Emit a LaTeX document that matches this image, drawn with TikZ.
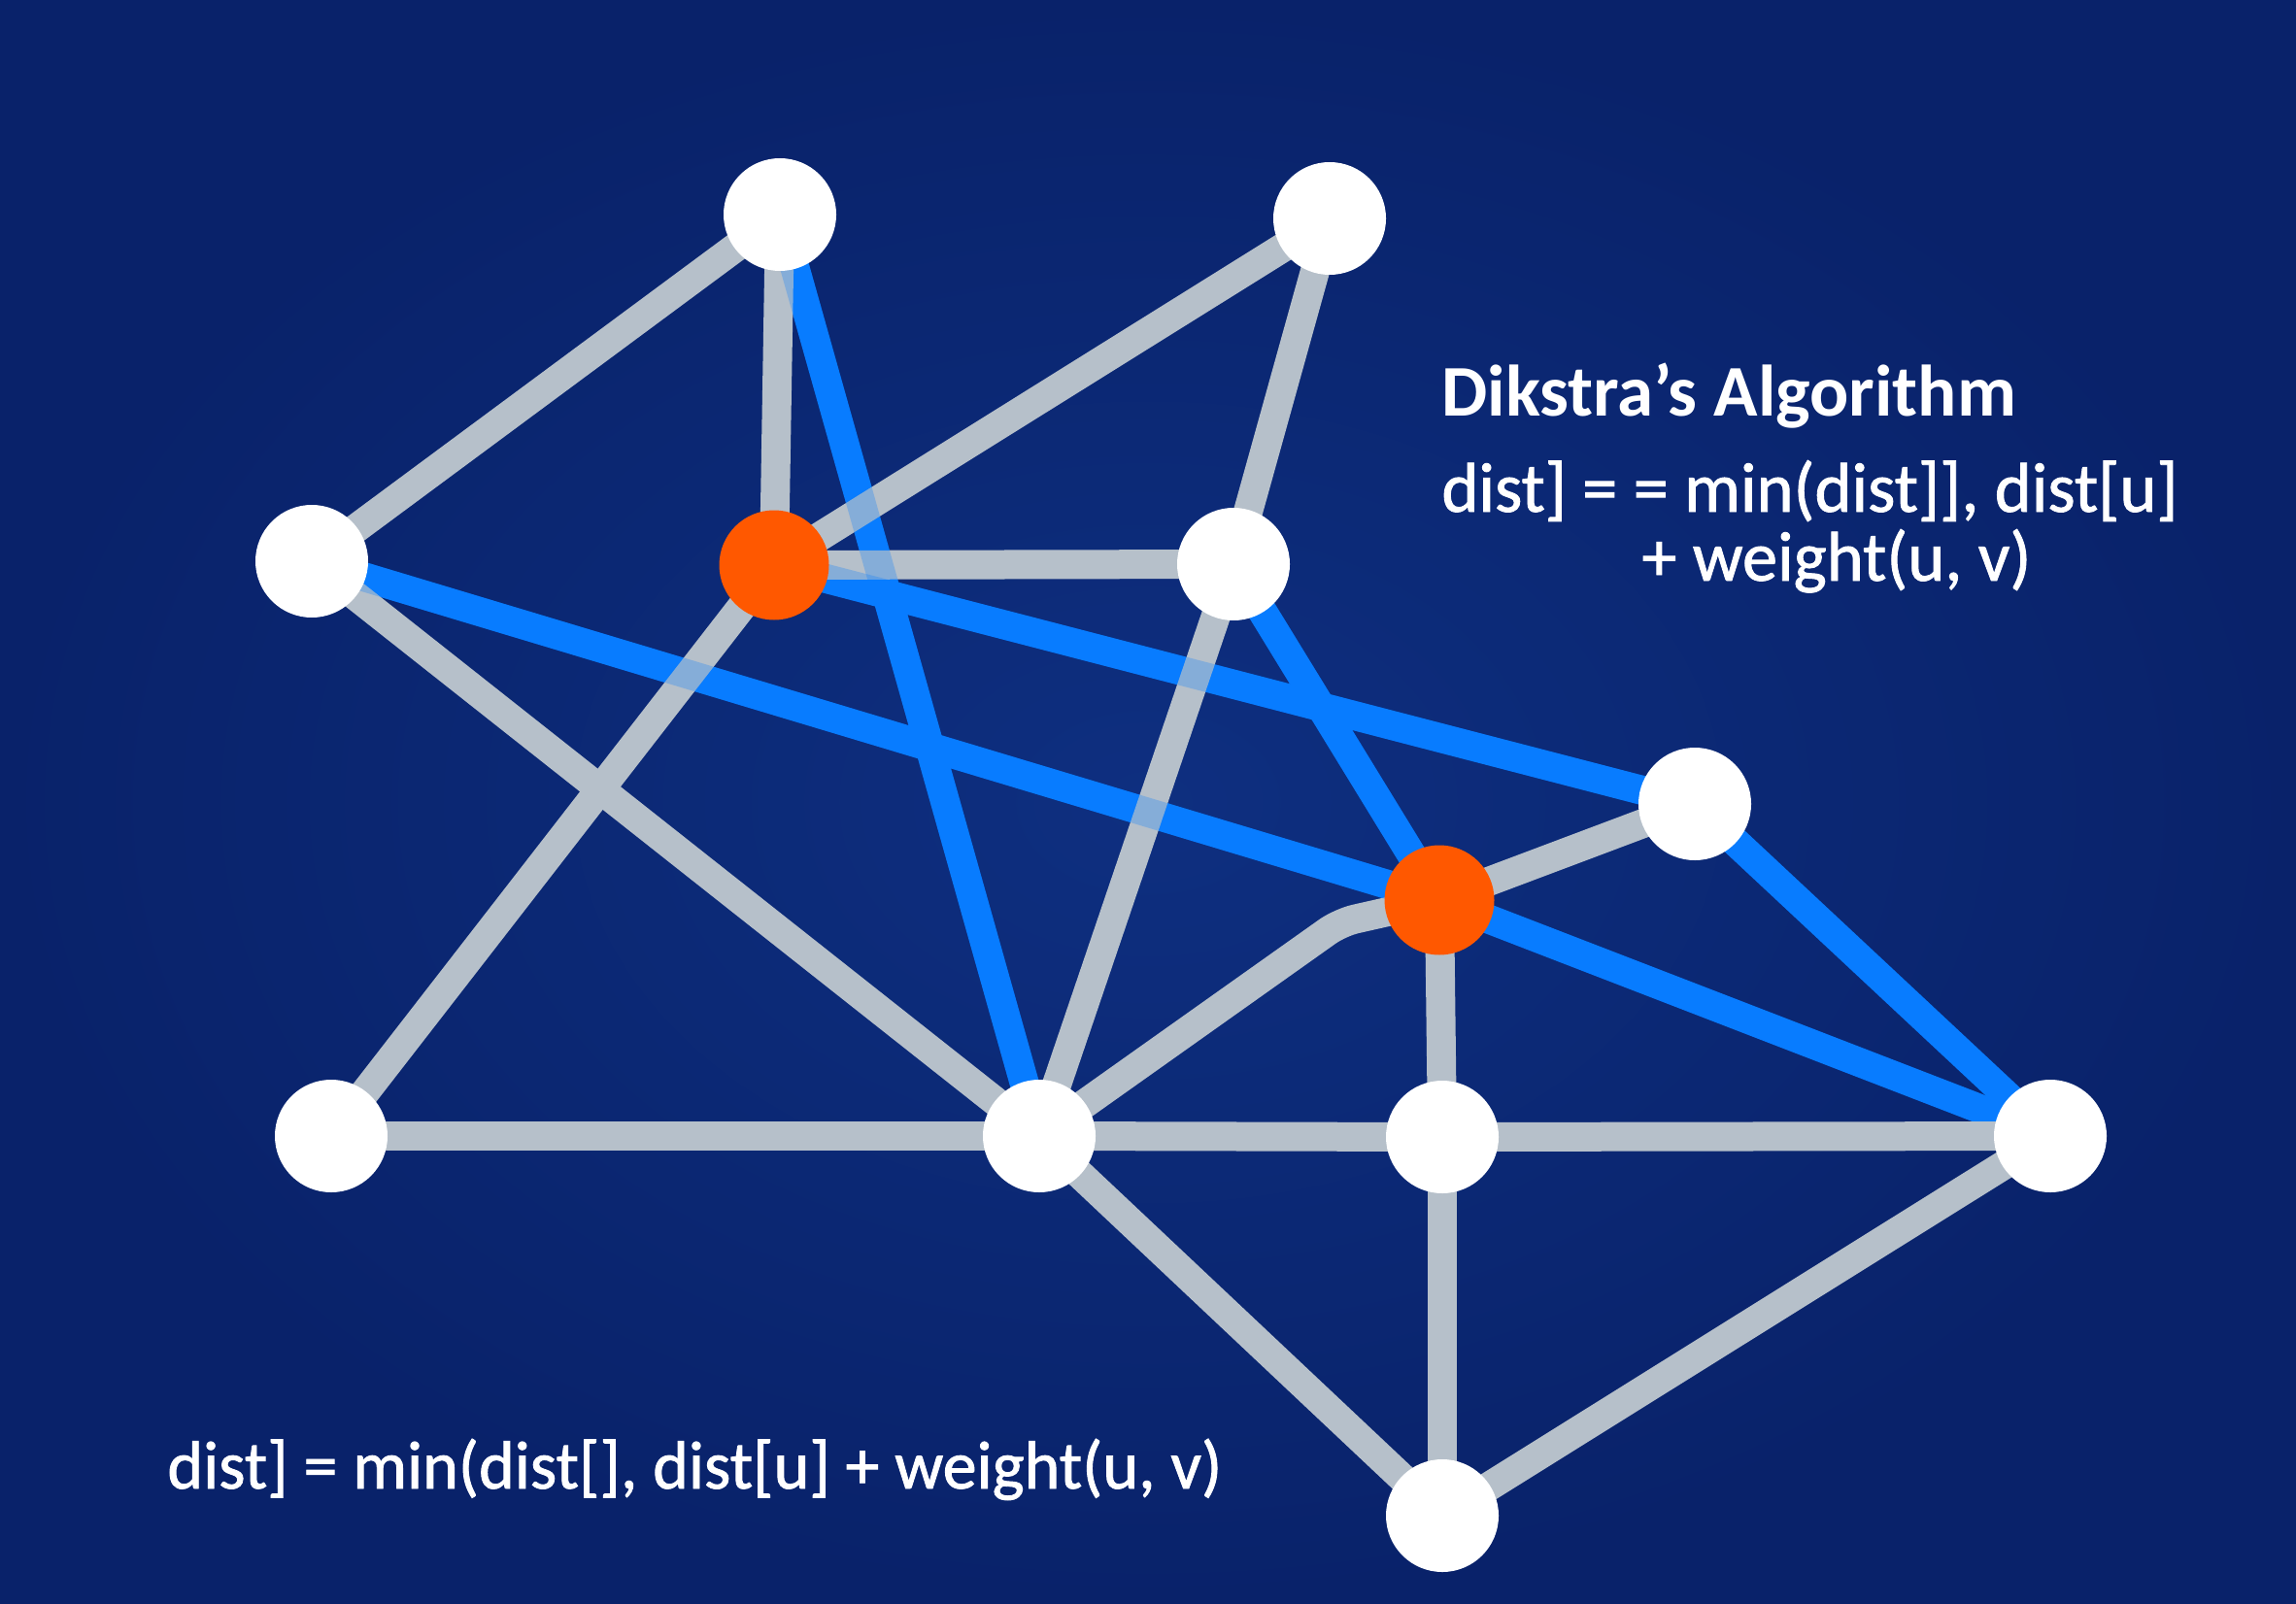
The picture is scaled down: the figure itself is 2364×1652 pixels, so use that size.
\documentclass[tikz,border=0pt]{standalone}
\usepackage{fontspec}
\setmainfont{Carlito}
\newfontfamily\rulefont{Carlito}[FakeBold=1.2]
\usepackage{tikz}

\definecolor{bginner}{RGB}{14,47,128}
\definecolor{bgouter}{RGB}{9,34,106}
\definecolor{edgegray}{RGB}{182,192,202}
\definecolor{pathblue}{RGB}{8,124,255}
\definecolor{visitorange}{RGB}{255,88,0}

\pgfdeclarelayer{back}
\pgfdeclarelayer{edges}
\pgfsetlayers{back,edges,main}

\tikzset{
  vert/.style={circle,fill=white,minimum size=58pt,inner sep=0pt},
  visited/.style={vert,fill=visitorange,minimum size=56.5pt},
  edge/.style={line width=15pt,draw=edgegray},
  short/.style={line width=15pt,draw=pathblue},
  tint/.style={line width=15pt,draw=pathblue,opacity=0.28},
  lbl/.style={text=white,anchor=base west,inner sep=0pt}
}

\begin{document}
\begin{tikzpicture}[x=0.5pt,y=0.5pt,yscale=-1]
\useasboundingbox (0,0) rectangle (2364,1652);

%Shape: Circle (vertices)
\node [vert] (va) at (803,221) {};
\node [vert] (vb) at (1369,225) {};
\node [vert] (vc) at (321,578) {};
\node [visited] (vs) at (797,582) {};
\node [vert] (vd) at (1270,581) {};
\node [vert] (ve) at (1745,828) {};
\node [visited] (vu) at (1482,927) {};
\node [vert] (vf) at (341,1170) {};
\node [vert] (vg) at (1070,1170) {};
\node [vert] (vh) at (1485,1171) {};
\node [vert] (vi) at (2111,1170) {};
\node [vert] (vj) at (1485,1561) {};
\coordinate (bend) at (1380,950);

% Text Node
\node [lbl,font=\bfseries\fontsize{37.5}{45}\selectfont] (title) at (1484,429) {Dikstra’s Algorithm};
% Text Node
\node [lbl,font=\rulefont\fontsize{36.2}{43}\selectfont] (rule1) at (1484,527) {dist] = = min(dist]], dist[u]};
% Text Node
\node [lbl,font=\rulefont\fontsize{36.2}{43}\selectfont] (rule2) at (1690,598) {+ weight(u, v)};
% Text Node
\node [lbl,font=\rulefont\fontsize{35}{42}\selectfont] (rule3) at (172,1533) {dist] = min(dist[], dist[u] + weight(u, v)};

\begin{pgfonlayer}{back}
%Shape: Rectangle (background)
\shade [inner color=bginner,outer color=bgouter] (0,0) rectangle (2364,1652);
\end{pgfonlayer}

\begin{pgfonlayer}{edges}
%Straight Lines (shortest path edges)
\draw [short] (va.center) -- (vg.center);
\draw [short] (vc.center) -- (vu.center);
\draw [short] (vs.center) -- (ve.center);
\draw [short] (vd.center) -- (vu.center);
\draw [short] (ve.center) -- (vi.center);
\draw [short] (vu.center) -- (vi.center);

%Straight Lines (other edges)
\draw [edge] (va.center) -- (vc.center);
\draw [edge] (va.center) -- (vs.center);
\draw [edge] (vb.center) -- (vs.center);
\draw [edge] (vb.center) -- (vd.center);
\draw [edge] (vs.center) -- (vd.center);
\draw [edge] (vc.center) -- (vg.center);
\draw [edge] (vs.center) -- (vf.center);
\draw [edge] (vd.center) -- (vg.center);
\draw [edge] (vf.center) -- (vg.center);
\draw [edge] (vg.center) -- (vh.center);
\draw [edge] (vh.center) -- (vi.center);
\draw [edge,rounded corners=8pt] (vg.center) -- (bend) -- (vu.center);
\draw [edge] (vu.center) -- (ve.center);
\draw [edge] (vu.center) -- (vh.center);
\draw [edge] (vh.center) -- (vj.center);
\draw [edge] (vg.center) -- (vj.center);
\draw [edge] (vj.center) -- (vi.center);

% blue seen through the gray where they cross
\draw [tint] (va.center) -- (vg.center);
\draw [tint] (vc.center) -- (vu.center);
\draw [tint] (vs.center) -- (ve.center);
\draw [tint] (vd.center) -- (vu.center);
\end{pgfonlayer}

\end{tikzpicture}
\end{document}
